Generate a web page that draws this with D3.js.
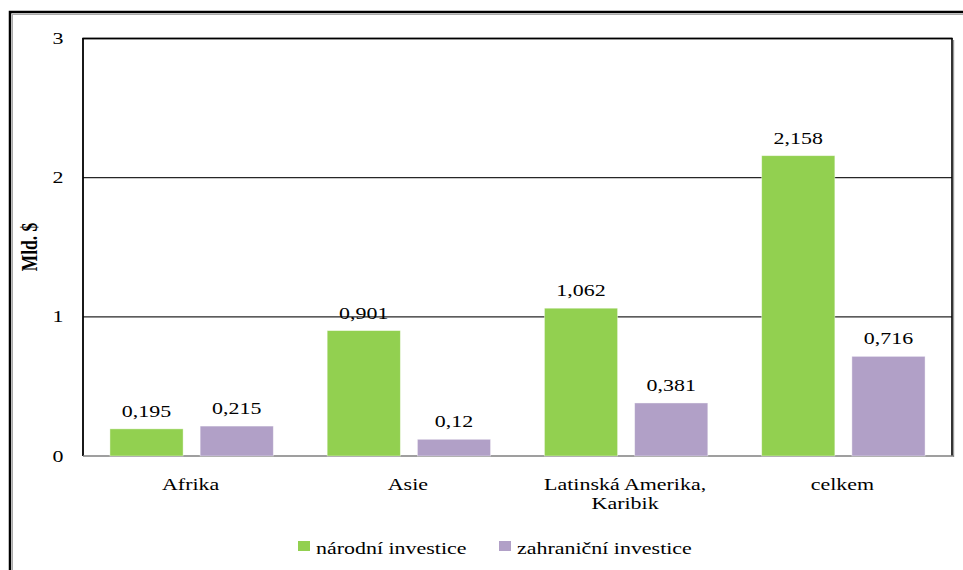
<!DOCTYPE html>
<html>
<head>
<meta charset="utf-8">
<script src="https://cdn.jsdelivr.net/npm/d3@7"></script>
<style>
  html, body { margin: 0; padding: 0; background: #fff; }
  svg { display: block; }
  text { font-family: "Liberation Serif", "Times New Roman", serif; fill: #000; }
</style>
</head>
<body>
<svg id="chart" width="963" height="570"></svg>
<script>
// Regions and the two investment series (Mld. $)
const categories = ["Afrika", "Asie", "Latinská Amerika, Karibik", "celkem"];
const categoryLines = [["Afrika"], ["Asie"], ["Latinská Amerika,", "Karibik"], ["celkem"]];
const seriesNames = ["národní investice", "zahraniční investice"];
const narodni = [0.195, 0.901, 1.062, 2.158];
const zahranicni = [0.215, 0.12, 0.381, 0.716];
const yTicks = [0, 1, 2, 3];
const colors = ["#92D050", "#B1A0C7"];

const svg = d3.select("#chart");
const SX = 1.33; // horizontal stretch of the lettering
const plot = { left: 83, right: 952, top: 38.5, bottom: 456 };

// helper: text placed in a horizontally stretched group
function label(parent, x, y, str, opts = {}) {
  const g = parent.append("g")
    .attr("transform", `translate(${x},${y}) scale(${SX},1)` + (opts.rotate ? ` rotate(${opts.rotate})` : ""));
  g.append("text")
    .attr("text-anchor", opts.anchor || "middle")
    .attr("font-size", opts.size || 16.5)
    .attr("font-weight", opts.weight || "normal")
    .attr("dominant-baseline", opts.baseline || "alphabetic")
    .text(str);
  return g;
}

// outer frame
svg.append("rect").attr("x", 10).attr("y", 12).attr("width", 1200).attr("height", 1200)
  .attr("fill", "none").attr("stroke", "#000").attr("stroke-width", 2.5);
svg.append("rect").attr("x", 12.5).attr("y", 14.5).attr("width", 1200).attr("height", 1200)
  .attr("fill", "none").attr("stroke", "#aaa").attr("stroke-width", 1);

const x0 = d3.scaleBand().domain(categories).range([plot.left, plot.right]).paddingInner(0).paddingOuter(0);
const bw = x0.bandwidth();
const x1 = d3.scaleBand().domain(seriesNames).range([bw * 0.124, bw * 0.876]).paddingInner(0.189);
const y = d3.scaleLinear().domain([0, 3]).range([plot.bottom, plot.top]);

// gridlines
svg.append("g").selectAll("line").data(yTicks.filter(t => t > 0)).join("line")
  .attr("x1", plot.left).attr("x2", plot.right)
  .attr("y1", d => y(d)).attr("y2", d => y(d))
  .attr("stroke", "#262626").attr("stroke-width", 1.3);

// plot frame: left, right edges (with soft shadow) and baseline
svg.append("line").attr("x1", plot.right + 1.6).attr("x2", plot.right + 1.6)
  .attr("y1", plot.top + 1.5).attr("y2", plot.bottom + 1)
  .attr("stroke", "#999").attr("stroke-width", 1.2);
svg.append("line").attr("x1", plot.left).attr("x2", plot.left)
  .attr("y1", plot.top).attr("y2", plot.bottom)
  .attr("stroke", "#000").attr("stroke-width", 1.8);
svg.append("line").attr("x1", plot.right).attr("x2", plot.right)
  .attr("y1", plot.top).attr("y2", plot.bottom)
  .attr("stroke", "#000").attr("stroke-width", 1.6);
svg.append("line").attr("x1", plot.left - 0.9).attr("x2", plot.right + 0.8)
  .attr("y1", plot.top).attr("y2", plot.top)
  .attr("stroke", "#000").attr("stroke-width", 1.6);
svg.append("line").attr("x1", plot.left).attr("x2", plot.right + 2)
  .attr("y1", plot.bottom).attr("y2", plot.bottom)
  .attr("stroke", "#7f7f7f").attr("stroke-width", 1.5);

// y tick labels
const yAxisG = svg.append("g");
yTicks.forEach(t => label(yAxisG, 58, y(t), String(t), { baseline: "central", size: 16.5 }));

// y axis title
label(svg, 29, 247, "Mld. $", { rotate: -90, weight: "bold", size: 17.5, baseline: "central" });

// bars
const rows = categories.map((c, i) => ({ cat: c, vals: [narodni[i], zahranicni[i]] }));
const groups = svg.append("g").selectAll("g").data(rows).join("g")
  .attr("transform", d => `translate(${x0(d.cat)},0)`);

groups.selectAll("rect").data(d => d.vals.map((v, j) => ({ v, j }))).join("rect")
  .attr("x", d => x1(seriesNames[d.j]))
  .attr("width", x1.bandwidth())
  .attr("y", d => y(d.v))
  .attr("height", d => y(0) - y(d.v))
  .attr("fill", d => colors[d.j])
  .attr("stroke", "#ffffff").attr("stroke-opacity", 0.5).attr("stroke-width", 0.8);

// value labels
groups.each(function (d) {
  const g = d3.select(this);
  d.vals.forEach((v, j) => {
    label(g, x1(seriesNames[j]) + x1.bandwidth() / 2, y(v) - 12, String(v).replace(".", ","), { size: 16.5 });
  });
});

// category labels
categories.forEach((c, i) => {
  categoryLines[i].forEach((ln, k) => {
    label(svg, x0(c) + bw / 2 - 1, 490 + k * 19, ln, { size: 16.5 });
  });
});

// legend
const legend = svg.append("g");
const legendItems = [{ x: 298, name: seriesNames[0], color: colors[0] }, { x: 499, name: seriesNames[1], color: colors[1] }];
legendItems.forEach(it => {
  legend.append("rect").attr("x", it.x).attr("y", 541).attr("width", 12).attr("height", 10).attr("fill", it.color);
  label(legend, it.x + 18, 553.5, it.name, { anchor: "start", size: 16.5 });
});
</script>
</body>
</html>
